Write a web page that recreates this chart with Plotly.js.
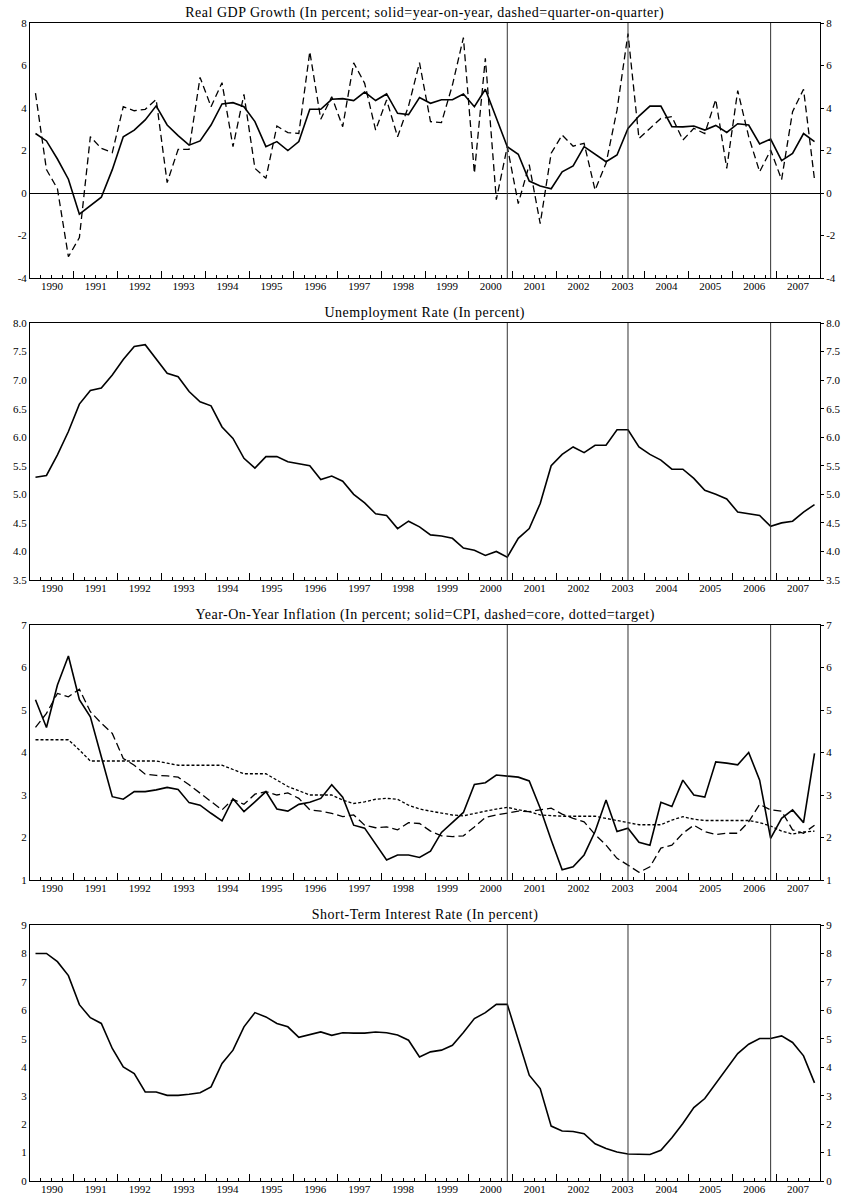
<!DOCTYPE html>
<html>
<head>
<meta charset="utf-8">
<script src="https://cdn.plot.ly/plotly-3.0.1.min.js"></script>
<style>html,body{margin:0;padding:0;background:#fff;}#chart{width:849px;height:1198px;}
#chart .annotation-text{letter-spacing:0.5px;}</style>
</head>
<body>
<div id="chart"></div>
<script>
// ---- Data (quarterly, 1990Q1 - 2007Q4) ----
const startYear = 1990;
const endYear = 2008;
const yearLabels = ['1990','1991','1992','1993','1994','1995','1996','1997','1998','1999','2000','2001','2002','2003','2004','2005','2006','2007'];
// event dates (vertical lines): 2000Q4, 2003Q3, 2006Q4
const eventQuarters = ['2000Q4', '2003Q3', '2006Q4'];

const gdpYoY = [2.8, 2.45, 1.6, 0.65, -1.0, -0.6, -0.2, 1.1, 2.65, 2.96, 3.44, 4.1,
  3.2, 2.7, 2.25, 2.45, 3.2, 4.19, 4.25, 4.06, 3.36, 2.18, 2.42, 2.0,
  2.42, 3.94, 3.94, 4.41, 4.44, 4.35, 4.75, 4.35, 4.66, 3.75, 3.69, 4.49,
  4.22, 4.39, 4.39, 4.66, 4.06, 4.88, 3.53, 2.18, 1.82, 0.56, 0.33, 0.2,
  1.0, 1.27, 2.18, 1.84, 1.47, 1.79, 3.04, 3.62, 4.09, 4.09, 3.12, 3.11,
  3.15, 2.96, 3.18, 2.85, 3.26, 3.2, 2.31, 2.54, 1.52, 1.86, 2.8, 2.42];

const gdpQoQ = [4.7, 1.1, 0.2, -3.0, -2.1, 2.65, 2.1, 1.9, 4.06, 3.87, 3.94, 4.4,
  0.49, 2.05, 2.05, 5.44, 4.06, 5.19, 2.18, 4.64, 1.16, 0.69, 3.15, 2.84,
  2.8, 6.65, 3.47, 4.53, 3.12, 6.13, 5.16, 2.96, 4.38, 2.65, 4.09, 6.13,
  3.36, 3.31, 5.08, 7.31, 0.93, 6.34, -0.31, 2.18, -0.5, 1.33, -1.44, 1.87,
  2.73, 2.2, 2.34, 0.14, 1.4, 3.9, 7.5, 2.57, 3.04, 3.51, 3.59, 2.49,
  3.04, 2.8, 4.4, 1.16, 4.82, 2.65, 1.0, 2.02, 0.63, 3.83, 4.88, 0.63];

const unemployment = [5.3, 5.33, 5.69, 6.1, 6.58, 6.82, 6.86, 7.09, 7.36, 7.59, 7.62, 7.36,
  7.12, 7.06, 6.8, 6.62, 6.55, 6.18, 5.98, 5.63, 5.46, 5.66, 5.66, 5.57,
  5.53, 5.5, 5.26, 5.32, 5.23, 5.0, 4.85, 4.66, 4.63, 4.4, 4.53, 4.43,
  4.29, 4.27, 4.23, 4.06, 4.02, 3.93, 4.0, 3.9, 4.23, 4.4, 4.84, 5.5,
  5.7, 5.83, 5.73, 5.86, 5.86, 6.13, 6.13, 5.83, 5.7, 5.6, 5.44, 5.44,
  5.28, 5.07, 5.0, 4.92, 4.69, 4.66, 4.63, 4.44, 4.5, 4.53, 4.69, 4.82];

const cpiInflation = [5.24, 4.59, 5.59, 6.27, 5.24, 4.84, 3.9, 2.96, 2.9, 3.08, 3.08, 3.12,
  3.18, 3.13, 2.82, 2.76, 2.57, 2.39, 2.91, 2.61, 2.84, 3.08, 2.67, 2.62,
  2.78, 2.83, 2.92, 3.24, 2.95, 2.29, 2.22, 1.84, 1.47, 1.59, 1.59, 1.53,
  1.68, 2.12, 2.36, 2.59, 3.25, 3.29, 3.47, 3.45, 3.42, 3.33, 2.69, 1.94,
  1.24, 1.31, 1.59, 2.14, 2.88, 2.14, 2.22, 1.89, 1.82, 2.83, 2.73, 3.35,
  3.0, 2.95, 3.78, 3.75, 3.71, 4.0, 3.35, 1.98, 2.45, 2.65, 2.35, 3.98];

const coreInflation = [4.59, 4.92, 5.39, 5.31, 5.49, 4.96, 4.69, 4.45, 3.86, 3.7, 3.49, 3.46,
  3.45, 3.42, 3.24, 3.04, 2.84, 2.65, 2.9, 2.78, 3.02, 3.08, 3.0, 3.05,
  2.92, 2.65, 2.62, 2.57, 2.49, 2.53, 2.29, 2.23, 2.25, 2.18, 2.35, 2.33,
  2.15, 2.04, 2.02, 2.04, 2.25, 2.47, 2.53, 2.57, 2.62, 2.61, 2.65, 2.69,
  2.55, 2.45, 2.37, 2.07, 1.82, 1.51, 1.35, 1.18, 1.31, 1.75, 1.82, 2.1,
  2.29, 2.14, 2.07, 2.1, 2.1, 2.37, 2.78, 2.65, 2.62, 2.18, 2.1, 2.29];

const targetInflation = [4.3, 4.3, 4.3, 4.3, 4.06, 3.8, 3.8, 3.8, 3.8, 3.8, 3.8, 3.8,
  3.75, 3.7, 3.7, 3.7, 3.7, 3.7, 3.6, 3.5, 3.5, 3.5, 3.35, 3.2,
  3.1, 3.0, 3.0, 3.0, 2.88, 2.8, 2.84, 2.9, 2.92, 2.9, 2.76, 2.67,
  2.62, 2.57, 2.53, 2.51, 2.57, 2.62, 2.67, 2.71, 2.65, 2.61, 2.53, 2.51,
  2.5, 2.5, 2.5, 2.5, 2.45, 2.4, 2.35, 2.3, 2.3, 2.3, 2.41, 2.49,
  2.43, 2.4, 2.4, 2.4, 2.4, 2.4, 2.35, 2.27, 2.15, 2.08, 2.13, 2.15];

const shortRate = [8.0, 8.0, 7.71, 7.22, 6.2, 5.74, 5.54, 4.66, 4.01, 3.78, 3.13, 3.13,
  3.01, 3.01, 3.05, 3.1, 3.31, 4.13, 4.6, 5.42, 5.92, 5.77, 5.54, 5.42,
  5.05, 5.15, 5.24, 5.12, 5.21, 5.2, 5.2, 5.24, 5.21, 5.13, 4.95, 4.36,
  4.54, 4.6, 4.77, 5.22, 5.71, 5.92, 6.21, 6.21, 4.95, 3.72, 3.25, 1.93,
  1.76, 1.74, 1.66, 1.31, 1.14, 1.02, 0.95, 0.93, 0.93, 1.08, 1.52, 2.02,
  2.58, 2.9, 3.42, 3.95, 4.48, 4.81, 5.01, 5.01, 5.1, 4.87, 4.4, 3.45];

const titles = [
  'Real GDP Growth (In percent; solid=year-on-year, dashed=quarter-on-quarter)',
  'Unemployment Rate (In percent)',
  'Year-On-Year Inflation (In percent; solid=CPI, dashed=core, dotted=target)',
  'Short-Term Interest Rate (In percent)'
];
const yTicks1 = [-4, -2, 0, 2, 4, 6, 8];
const yTicks2 = [3.5, 4.0, 4.5, 5.0, 5.5, 6.0, 6.5, 7.0, 7.5, 8.0];
const yTicks3 = [1, 2, 3, 4, 5, 6, 7];
const yTicks4 = [0, 1, 2, 3, 4, 5, 6, 7, 8, 9];

// ---- Build ----
// quarter label -> position at the middle of the quarter on a continuous year axis
function qPos(label) {
  const y = parseInt(label.slice(0, 4), 10);
  const q = parseInt(label.slice(5), 10);
  return y + (q - 0.5) / 4;
}
const quarterLabels = [];
for (let y = startYear; y < endYear; y++) for (let q = 1; q <= 4; q++) quarterLabels.push(y + 'Q' + q);
const xq = quarterLabels.map(qPos);
const yearMid = yearLabels.map(s => parseInt(s, 10) + 0.5);
const eventX = eventQuarters.map(qPos);

const FONT = 'Liberation Serif, Times New Roman, serif';
const plotTop = 23, plotBot = 1181, H = 1198;
const panelPx = [[23, 278], [323, 580], [625, 880], [925, 1181]];
const span = plotBot - plotTop;
const domains = panelPx.map(([t, b]) => [(plotBot - b) / span, (plotBot - t) / span]);

const panels = [
  {ticks: yTicks1, fmt: v => String(v), zero: true,
   series: [{y: gdpYoY, dash: 'solid', w: 1.6}, {y: gdpQoQ, dash: '7px,4px', w: 1.3}]},
  {ticks: yTicks2, fmt: v => v.toFixed(1), zero: false,
   series: [{y: unemployment, dash: 'solid', w: 1.6}]},
  {ticks: yTicks3, fmt: v => String(v), zero: false,
   series: [{y: cpiInflation, dash: 'solid', w: 1.6}, {y: coreInflation, dash: '8px,4px', w: 1.3}, {y: targetInflation, dash: '3px,2px', w: 1.3}]},
  {ticks: yTicks4, fmt: v => String(v), zero: false,
   series: [{y: shortRate, dash: 'solid', w: 1.6}]}
];

const traces = [];
const layout = {
  width: 849, height: H,
  margin: {l: 30, r: 29, t: plotTop, b: H - plotBot, pad: 0},
  paper_bgcolor: '#fff', plot_bgcolor: '#fff',
  showlegend: false,
  font: {family: FONT, size: 11, color: '#000'},
  shapes: [], annotations: []
};

panels.forEach((p, k) => {
  const n = k + 1;
  const sfx = n === 1 ? '' : String(n);
  const xName = 'x' + sfx, yName = 'y' + sfx;
  const xLab = 'x' + (n + 4), yRight = 'y' + (n + 4);
  const rng = [p.ticks[0], p.ticks[p.ticks.length - 1]];
  p.series.forEach(s => {
    traces.push({x: xq, y: s.y, xaxis: xName, yaxis: yName, type: 'scatter', mode: 'lines',
      line: {color: '#000', width: s.w, dash: s.dash}, hoverinfo: 'x+y'});
  });
  // empty traces so that the label-only overlay axes get drawn
  traces.push({x: [], y: [], xaxis: xLab, yaxis: yName, type: 'scatter', mode: 'lines', hoverinfo: 'skip'});
  traces.push({x: [], y: [], xaxis: xName, yaxis: yRight, type: 'scatter', mode: 'lines', hoverinfo: 'skip'});

  layout['xaxis' + sfx] = {
    domain: [0, 1], range: [startYear, endYear], anchor: yName,
    showline: true, mirror: true, linecolor: '#000', linewidth: 1,
    showgrid: false, zeroline: false,
    tickmode: 'linear', tick0: startYear, dtick: 1,
    ticks: 'inside', ticklen: 7, tickcolor: '#000', tickwidth: 1,
    showticklabels: false,
    minor: {tickmode: 'linear', tick0: startYear, dtick: 0.25, ticks: 'inside', ticklen: 3, tickcolor: '#000', tickwidth: 1, showgrid: false}
  };
  layout['xaxis' + (n + 4)] = {
    overlaying: xName, anchor: yName, side: 'bottom', range: [startYear, endYear],
    showline: false, showgrid: false, zeroline: false,
    tickmode: 'array', tickvals: yearMid, ticktext: yearLabels, ticks: '',
    tickfont: {family: FONT, size: 11, color: '#000'}
  };
  layout['yaxis' + sfx] = {
    domain: domains[k], range: rng, anchor: xName,
    showline: true, mirror: true, linecolor: '#000', linewidth: 1,
    showgrid: false, zeroline: p.zero, zerolinecolor: '#000', zerolinewidth: 1,
    tickmode: 'array', tickvals: p.ticks, ticktext: p.ticks.map(p.fmt), ticks: '',
    tickfont: {family: FONT, size: 11, color: '#000'}
  };
  layout['yaxis' + (n + 4)] = {
    overlaying: yName, anchor: xName, side: 'right', range: rng,
    showline: false, showgrid: false, zeroline: false,
    tickmode: 'array', tickvals: p.ticks, ticktext: p.ticks.map(p.fmt),
    ticks: 'outside', ticklen: 3, tickcolor: '#000',
    tickfont: {family: FONT, size: 11, color: '#000'}
  };
  eventX.forEach(ex => {
    layout.shapes.push({type: 'line', xref: xName, yref: yName + ' domain', x0: ex, x1: ex, y0: 0, y1: 1,
      line: {color: '#333', width: 1}});
  });
  layout.annotations.push({xref: 'paper', yref: 'paper', x: 0.5, y: domains[k][1], xanchor: 'center', yanchor: 'bottom',
    yshift: 0, showarrow: false, text: titles[k], font: {family: FONT, size: 14, color: '#000'}});
});

Plotly.newPlot('chart', traces, layout, {displayModeBar: false, staticPlot: true});
</script>
</body>
</html>
